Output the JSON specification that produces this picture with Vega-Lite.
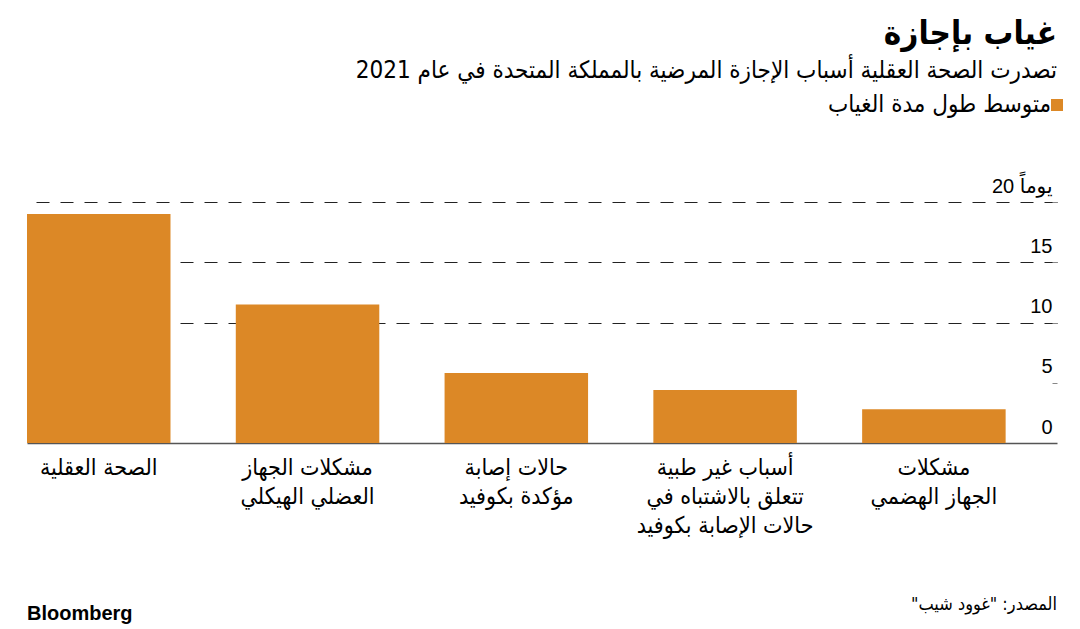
{
  "$schema": "https://vega.github.io/schema/vega-lite/v6.json",
  "width": 1030,
  "height": 241,
  "autosize": {"type": "none"},
  "padding": {"left": 27, "top": 202, "right": 23, "bottom": 186},
  "background": "white",
  "title": {
    "text": "غياب بإجازة",
    "subtitle": "تصدرت الصحة العقلية أسباب الإجازة المرضية بالمملكة المتحدة في عام 2021",
    "anchor": "end",
    "frame": "group",
    "font": "DejaVu Sans Condensed, DejaVu Sans",
    "fontSize": 33,
    "fontWeight": "bold",
    "color": "black",
    "subtitleFont": "DejaVu Sans Condensed, DejaVu Sans",
    "subtitleFontSize": 24,
    "subtitleColor": "black",
    "subtitlePadding": 8,
    "offset": 10
  },
  "data": {
    "values": [
      {"cause": "الصحة العقلية", "days": 19.0},
      {"cause": "مشكلات الجهاز|العضلي الهيكلي", "days": 11.5},
      {"cause": "حالات إصابة|مؤكدة بكوفيد", "days": 5.8},
      {"cause": "أسباب غير طبية|تتعلق بالاشتباه في|حالات الإصابة بكوفيد", "days": 4.4},
      {"cause": "مشكلات|الجهاز الهضمي", "days": 2.8}
    ]
  },
  "layer": [
    {
      "mark": {"type": "bar"},
      "encoding": {
        "x": {
          "field": "cause",
          "type": "nominal",
          "sort": null,
          "scale": {"paddingInner": 0.3127, "paddingOuter": 0.123, "align": 0},
          "axis": {
            "title": null,
            "labelExpr": "split(datum.label, '|')",
            "labelAngle": 0,
            "labelFont": "DejaVu Sans Condensed, DejaVu Sans",
            "labelFontSize": 23,
            "labelLineHeight": 29,
            "labelPadding": 13,
            "labelBaseline": "top",
            "labelColor": "black",
            "labelLimit": 0,
            "ticks": false,
            "domainColor": "#555555",
            "domainWidth": 1.5
          }
        },
        "y": {
          "field": "days",
          "type": "quantitative",
          "scale": {"domain": [0, 20]},
          "axis": {
            "orient": "right",
            "title": null,
            "values": [0, 5, 10, 15, 20],
            "labelExpr": "datum.value == 20 ? '\u200e20 يوماً' : datum.label",
            "domain": false,
            "tickSize": -5,
            "tickColor": "#888888",
            "tickOpacity": {"condition": {"test": "datum.value == 0", "value": 0}, "value": 1},
            "labelAlign": "right",
            "labelBaseline": "alphabetic",
            "labelOffset": -10,
            "labelPadding": 0,
            "labelFont": "Liberation Sans, DejaVu Sans",
            "labelFontSize": 20,
            "labelColor": "black",
            "grid": true,
            "gridDash": [13, 11],
            "gridColor": "#222222",
            "gridWidth": 1,
            "gridOpacity": {"condition": {"test": "datum.value == 5 || datum.value == 0", "value": 0}, "value": 1}
          }
        },
        "color": {
          "datum": "متوسط طول مدة الغياب",
          "scale": {"range": ["#dc8826"]},
          "legend": {
            "orient": "none",
            "legendX": 1018,
            "legendY": -109,
            "title": null,
            "padding": 0,
            "symbolType": "square",
            "symbolSize": 144,
            "symbolStrokeWidth": 0,
            "symbolOpacity": 1,
            "labelAlign": "right",
            "labelOffset": -18,
            "labelBaseline": "middle",
            "labelFont": "DejaVu Sans Condensed, DejaVu Sans",
            "labelFontSize": 24,
            "labelColor": "black",
            "labelLimit": 0
          }
        }
      }
    },
    {
      "data": {"values": [{"t": "Bloomberg"}]},
      "mark": {"type": "text", "align": "left", "baseline": "middle", "font": "Liberation Sans", "fontSize": 20, "fontWeight": "bold", "color": "black"},
      "encoding": {"text": {"field": "t"}, "x": {"value": 0}, "y": {"value": 412}}
    },
    {
      "data": {"values": [{"t": "\u200fالمصدر: \"غوود شيب\"\u200f"}]},
      "mark": {"type": "text", "align": "right", "baseline": "middle", "font": "DejaVu Sans Condensed, DejaVu Sans", "fontSize": 18, "color": "black"},
      "encoding": {"text": {"field": "t"}, "x": {"value": 1030}, "y": {"value": 403}}
    }
  ],
  "config": {"view": {"stroke": null}}
}
